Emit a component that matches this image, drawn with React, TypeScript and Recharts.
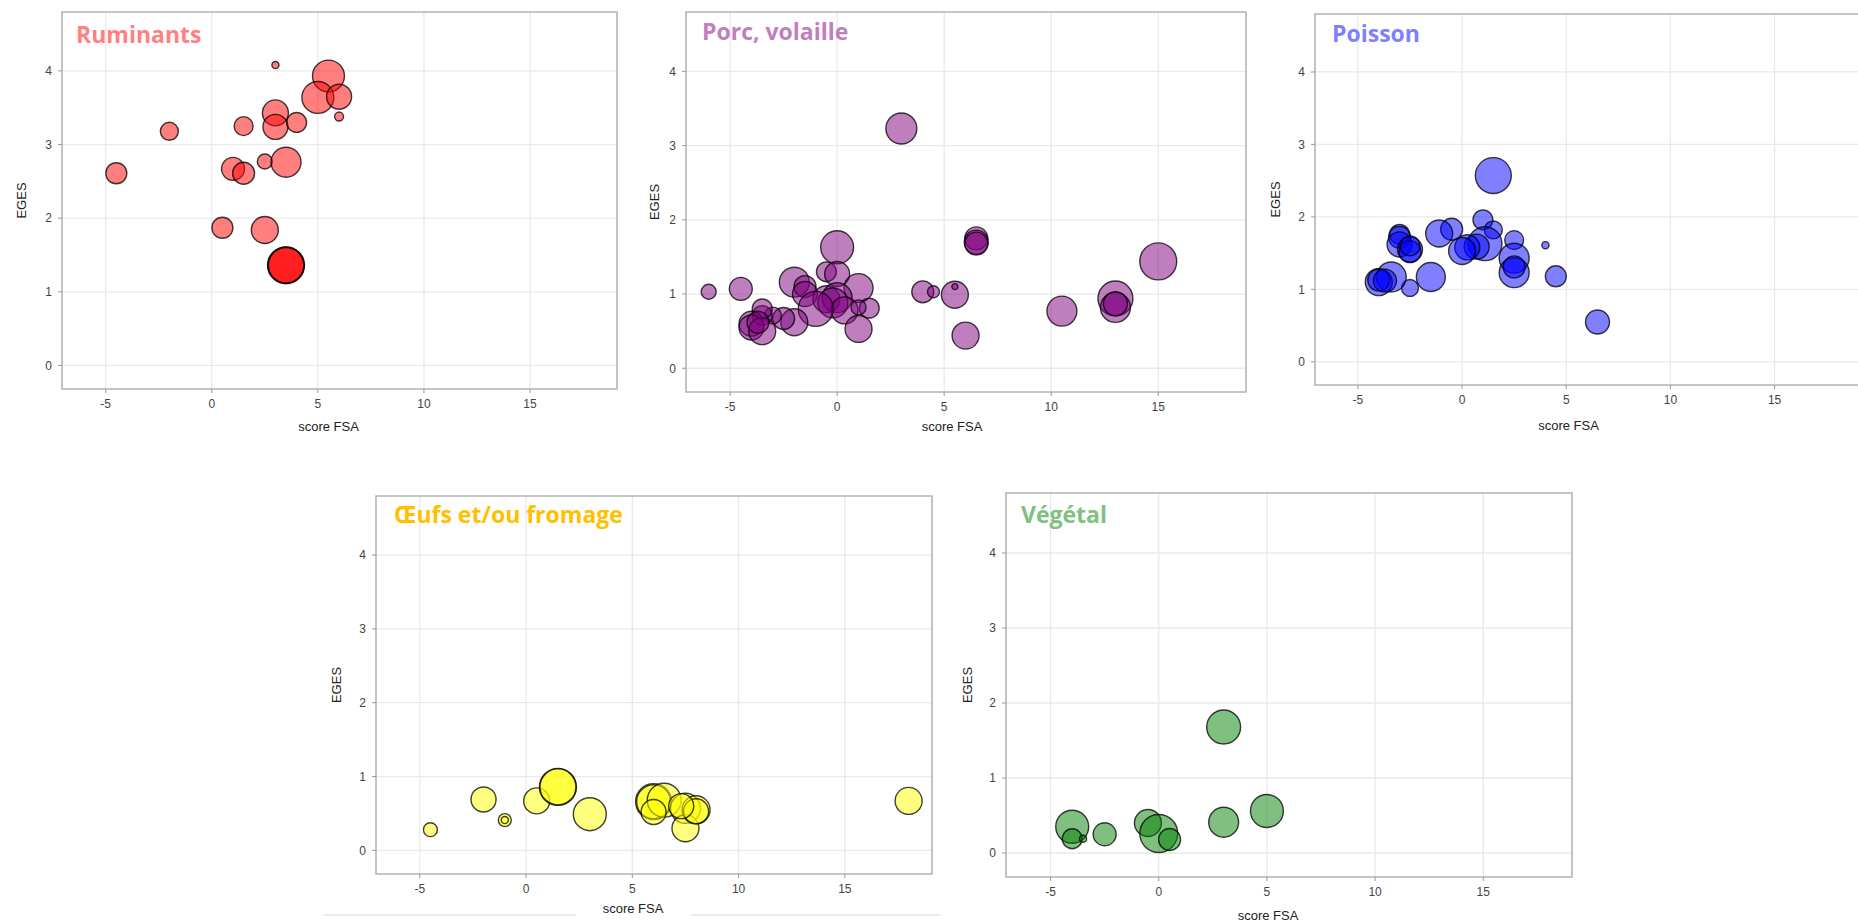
import React from "react";
import { CartesianGrid, ReferenceArea, Scatter, ScatterChart, XAxis, YAxis, ZAxis } from "recharts";

const X_TICKS = [-5, 0, 5, 10, 15];
const Y_TICKS = [0, 1, 2, 3, 4];
const X_DOMAIN: [number, number] = [-7.06, 19.1];
const Y_DOMAIN: [number, number] = [-0.32, 4.8];

// [score FSA, EGES, poids]
const ruminants = [
  [3.0, 4.08, 1.4], [5.5, 3.93, 28.4], [5.0, 3.64, 28.4], [6.0, 3.65, 17.4], [6.0, 3.38, 2.25],
  [3.0, 3.43, 18.8], [3.0, 3.24, 17.4], [4.0, 3.3, 11], [1.5, 3.25, 10], [-2.0, 3.18, 9],
  [-4.5, 2.61, 12.25], [1.0, 2.67, 14.7], [1.5, 2.61, 13.4], [2.5, 2.77, 6.25], [3.5, 2.76, 25],
  [0.5, 1.87, 12.25], [2.5, 1.84, 20.25], [3.5, 1.36, 38], [3.5, 1.36, 36], [3.5, 1.36, 35],
];

const porcVolaille = [
  [3.0, 3.23, 26.7], [-6.0, 1.03, 6.25], [-4.5, 1.07, 14.7], [0, 1.63, 30.25], [6.5, 1.75, 14.7],
  [6.5, 1.7, 16], [6.5, 1.68, 14.7], [15, 1.44, 38], [4.0, 1.03, 13.4], [4.5, 1.03, 4],
  [5.5, 0.99, 20.25], [5.5, 1.1, 1], [6.0, 0.44, 20.25], [10.5, 0.77, 25], [13, 0.94, 34],
  [13, 0.82, 25], [13, 0.87, 16], [-2.0, 1.16, 25], [-1.5, 1.1, 13.4], [-1.5, 1.0, 17.4],
  [-0.5, 1.3, 11], [0, 1.27, 17.4], [1.0, 1.08, 23.4], [-0.5, 0.93, 20.25], [0, 0.95, 25],
  [-0.2, 0.88, 25], [0.35, 0.78, 20.25], [1.5, 0.81, 11], [1.0, 0.82, 6.25], [1.0, 0.53, 20.25],
  [-1.0, 0.8, 34], [-2.0, 0.62, 20.25], [-2.5, 0.67, 13.4], [-3.0, 0.71, 8], [-3.5, 0.71, 11],
  [-3.5, 0.8, 11], [-4.0, 0.6, 17.4], [-4.0, 0.55, 17.4], [-3.5, 0.5, 20.25], [-3.7, 0.62, 13.4],
];

const poisson = [
  [1.5, 2.57, 36], [6.5, 0.55, 16], [4.5, 1.18, 12.25], [4.0, 1.61, 1.4], [2.5, 1.68, 10],
  [2.5, 1.43, 25], [2.5, 1.23, 25], [2.5, 1.31, 13.4], [1.0, 1.96, 11], [1.5, 1.82, 9],
  [1.1, 1.63, 32], [0.7, 1.59, 17.4], [0.25, 1.58, 17.4], [0, 1.53, 20.25], [-0.5, 1.83, 13.4],
  [-1.1, 1.77, 20.25], [-1.5, 1.17, 23.4], [-2.5, 1.02, 8], [-3.4, 1.17, 25], [-4.0, 1.1, 20.25],
  [-4.0, 1.13, 13.4], [-3.7, 1.12, 14.7], [-3.0, 1.76, 11], [-3.0, 1.72, 13.4], [-3.0, 1.62, 17.4],
  [-2.5, 1.55, 17.4], [-2.5, 1.52, 13.4], [-2.5, 1.6, 11],
];

const oeufsFromage = [
  [-4.5, 0.28, 5.4], [-2.0, 0.69, 17.4], [-1.0, 0.41, 4.7], [-1.0, 0.41, 1.4], [0.5, 0.67, 18.8],
  [1.5, 0.86, 38], [1.5, 0.86, 36], [3.0, 0.49, 30.25], [6.0, 0.66, 36], [6.0, 0.66, 32],
  [6.5, 0.68, 32], [6.0, 0.52, 17.4], [7.5, 0.57, 25], [7.5, 0.3, 20.25], [8.0, 0.55, 21.8],
  [8.0, 0.53, 17.4], [7.3, 0.6, 17.4], [18.0, 0.67, 20.25],
];

const vegetal = [
  [3.0, 1.68, 32], [5.0, 0.56, 30.25], [3.0, 0.41, 25], [-4.0, 0.35, 30.25], [-4.0, 0.19, 11],
  [-3.5, 0.19, 1.4], [-2.5, 0.25, 14.7], [-0.5, 0.4, 20.25], [0, 0.26, 40], [0.5, 0.18, 13.4],
];

const toPoints = (rows: number[][]) => rows.map(([x, y, z]) => ({ x, y, z }));

const PANELS = [
  { title: "Ruminants", titleColor: "#ff8080", fill: "#ff0000", rows: ruminants,
    frame: { l: 62, r: 617, t: 12, b: 389 }, titleX: 76, titleY: 43, yGap: 41, xDx: -11, xDrop: 37 },
  { title: "Porc, volaille", titleColor: "#c080c0", fill: "#800080", rows: porcVolaille,
    frame: { l: 686, r: 1246, t: 12, b: 392 }, titleX: 702, titleY: 39.5, yGap: 31.5, xDx: -14, xDrop: 34 },
  { title: "Poisson", titleColor: "#8080ff", fill: "#0000ff", rows: poisson,
    frame: { l: 1315, r: 1860, t: 14, b: 385 }, titleX: 1332, titleY: 41.5, yGap: 39.5, xDx: -19, xDrop: 40 },
  { title: "Œufs et/ou fromage", titleColor: "#ffc000", fill: "#ffff00", rows: oeufsFromage,
    frame: { l: 376, r: 932, t: 496, b: 874 }, titleX: 394, titleY: 523, yGap: 40, xDx: -21, xDrop: 34 },
  { title: "Végétal", titleColor: "#80c080", fill: "#008000", rows: vegetal,
    frame: { l: 1006, r: 1572, t: 493, b: 877 }, titleX: 1021, titleY: 523, yGap: 39, xDx: -21, xDrop: 38 },
];

type PanelProps = (typeof PANELS)[number];

function Panel({ rows, fill, frame, yGap, xDx, xDrop }: PanelProps) {
  const { l, r, t, b } = frame;
  return (
    <div style={{ position: "absolute", left: l - 50, top: t - 5 }}>
      <ScatterChart width={r - l + 55} height={b - t + 55} margin={{ top: 5, right: 5, bottom: 0, left: 0 }}>
        <CartesianGrid stroke="#e9e9e9" strokeWidth={1.3} />
        <ReferenceArea x1={X_DOMAIN[0]} x2={X_DOMAIN[1]} y1={Y_DOMAIN[0]} y2={Y_DOMAIN[1]}
          fill="none" stroke="#b8b8b8" strokeWidth={1.6} />
        <XAxis type="number" dataKey="x" domain={X_DOMAIN} ticks={X_TICKS} allowDataOverflow height={50}
          axisLine={false} tickLine={{ stroke: "#999" }} tickSize={4} tickMargin={6}
          tick={{ fill: "#444", fontSize: 12 }}
          label={{ value: "score FSA", position: "insideBottom", offset: 50 - (xDrop + 4.5), dx: xDx, fill: "#222", fontSize: 13 }} />
        <YAxis type="number" dataKey="y" domain={Y_DOMAIN} ticks={Y_TICKS} allowDataOverflow width={50}
          axisLine={false} tickLine={{ stroke: "#999" }} tickSize={4} tickMargin={6}
          tick={{ fill: "#444", fontSize: 12 }}
          label={{ value: "EGES", angle: -90, position: "insideLeft", offset: 50 - yGap, fill: "#222", fontSize: 13, style: { textAnchor: "middle" } }} />
        <ZAxis type="number" dataKey="z" domain={[0, 40]} range={[0, 1128]} />
        <Scatter data={toPoints(rows)} fill={fill} fillOpacity={0.5} stroke="#000" strokeOpacity={0.75}
          strokeWidth={1.4} isAnimationActive={false} />
      </ScatterChart>
    </div>
  );
}

export default function App() {
  return (
    <div style={{ position: "absolute", left: 0, top: 0, width: 1858, height: 924, overflow: "hidden",
      background: "#fff", fontFamily: "'Liberation Sans', Arial, sans-serif" }}>
      {PANELS.map((p) => <Panel key={p.title} {...p} />)}
      <svg width={1858} height={924} style={{ position: "absolute", left: 0, top: 0, pointerEvents: "none" }}>
        {PANELS.map((p) => (
          <text key={p.title} x={p.titleX} y={p.titleY} fill={p.titleColor}
            style={{ fontFamily: "'Open Sans', sans-serif", fontWeight: 700, fontSize: 23 }}>
            {p.title}
          </text>
        ))}
      </svg>
      <div style={{ position: "absolute", left: 324, top: 914, width: 252, height: 2, background: "#ececec" }} />
      <div style={{ position: "absolute", left: 691, top: 914, width: 249, height: 2, background: "#ececec" }} />
    </div>
  );
}
